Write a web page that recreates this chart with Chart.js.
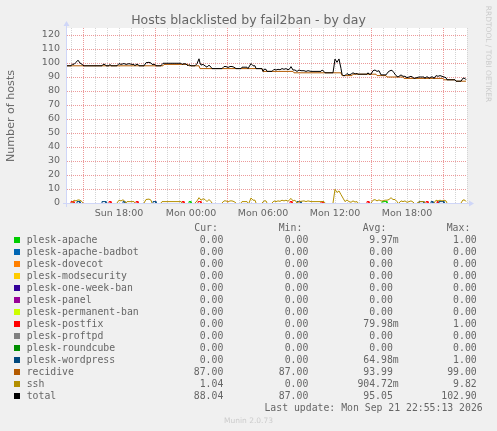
<!DOCTYPE html>
<html><head><meta charset="utf-8">
<script src="https://cdn.jsdelivr.net/npm/chart.js@4/dist/chart.umd.min.js"></script>
<style>
html,body{margin:0;padding:0;background:#F0F0F0;}
#wrap{position:relative;width:497px;height:431px;overflow:hidden;background:#F0F0F0;}
#c{position:absolute;left:0;top:0;}
.t{position:absolute;white-space:pre;color:#666;}
.mono{font-family:"DejaVu Sans Mono",monospace;font-size:9.8px;line-height:12px;}
.sans{font-family:"DejaVu Sans",sans-serif;}
.sw{position:absolute;width:6px;height:6px;}
</style></head><body>
<div id="wrap"><canvas id="c" width="497" height="431"></canvas></div>
<script>
// ---- data (time = minutes relative to Mon 00:00) ----
const xMin = -620, xMax = 1380;
const xTickMinutes = [-360, 0, 360, 720, 1080];
const xTickLabels = ['Sun 18:00', 'Mon 00:00', 'Mon 06:00', 'Mon 12:00', 'Mon 18:00'];

const totalTime = [
 -620,-600,-592,-585,-575,-565,-555,-545,-535,-445,
 -440,-430,-425,-410,-405,-400,-370,-360,-350,-335,
 -325,-310,-295,-285,-280,-275,-265,-260,-235,-225,
 -210,-200,-195,-180,-175,-150,-145,-140,-50,-45,
 -35,-25,-15,-10,0,20,30,40,45,50,
 60,70,80,90,100,105,155,165,175,185,
 195,205,215,225,250,255,280,285,300,310,
 320,325,355,360,365,375,380,405,415,425,
 435,445,455,465,475,485,495,500,510,520,
 530,540,550,565,575,585,600,650,655,665,
 670,710,720,730,740,750,755,760,770,780,
 790,800,810,820,830,835,880,885,890,900,
 910,920,930,940,950,975,985,995,1005,1015,
 1025,1035,1050,1060,1070,1080,1090,1100,1110,1115,
 1140,1165,1170,1175,1185,1190,1200,1210,1215,1225,
 1235,1245,1255,1265,1275,1280,1320,1325,1350,1360,
 1370,1375];
const totalHosts = [
 98,98,99.3,99,100.5,102,100,99,98,98,
 99,99,98,98,99,98,98,99.6,99,99.6,
 99,99.5,99,99,98,99,99,98,98,100.2,
 100.5,100,99,99,98,98,99,99.8,99.8,99,
 99.5,99.3,98,98.8,98,98,99.5,103,100,98.5,
 99,98,97,98.5,97,96,96,97.5,97.5,96.8,
 97.5,97.5,97,96,96,97,97,96,99.6,98,
 98,96,96,94,95.5,95.5,94,94,95.5,95,
 95.5,95.2,96,95.5,96,95.2,96,97.4,95,95,
 94,95,94.5,94.5,94,94.5,94,94,95,94,
 93,93,102.8,100.5,102.9,96,92,91,91,92.5,
 91.5,92,93,92.2,92.5,92,92,93,92,92,
 94.5,95,94,94.5,91.5,91.5,93.5,94.5,94.8,93,
 91,90,91.5,90.5,90.5,89.5,90,90.5,89.7,89,
 90,90,89,90,90,89,90,90,89,91,
 90.5,91,90.5,90,89.5,88,88,87,87,89.2,
 89,88.04];

const recidiveTime = [-620,-140,-135,-15,-10,40,45,355,360,510,515,750,755,805,810,925,930,975,980,1060,1065,1260,1265,1320,1325,1375];
const recidiveHosts = [98,98,99,99,98,98,96,96,94,94,93,93,91,91,92,92,91,91,90,90,89,89,88,88,87,87];

const sshTime = [
 -620,-595,-585,-575,-565,-555,-545,-540,
 -370,-360,-350,-340,-330,-325,-320,-285,-280,
 -235,-225,-210,-200,-195,
 -150,-145,-50,-45,
 20,30,40,50,60,70,80,90,100,105,
 155,165,175,185,195,205,215,225,
 250,255,280,285,290,300,310,320,325,
 355,365,375,380,
 405,415,425,435,445,455,465,475,485,500,510,520,530,
 540,565,575,585,600,665,670,
 710,720,730,740,750,760,770,780,790,800,810,820,830,835,
 900,910,920,930,940,950,960,970,980,990,1000,1010,1020,1030,1035,
 1040,1050,1060,1070,1080,1090,1100,1110,1115,
 1130,1145,1165,1170,
 1215,1225,1235,1245,1255,1265,1275,1280,
 1350,1360,1370,1375];
const sshHosts = [
 0,0,2,1.5,2.2,2,1,0,
 0,2,1.5,2.3,1,0,1,1,0,
 0,2.5,2.8,2,0,
 0,1,1,0,
 0,1.5,3.8,2,3,2.5,1,2.5,1,0,
 0,1.5,1.5,0.8,1.5,1.5,1,0,
 0,1,1,0,0,3.6,2,2,0,
 0,1.5,1.5,0,
 0,1.5,1,1.5,1.2,2,1.5,2,1.2,3.3,1.5,2,0,
 1,1.5,1,1.5,1,1,0,
 0,9.8,7.5,8.6,6,3.5,1,2.2,1,0.5,1.5,0.7,1,0,
 0,2,2.4,1.5,2.2,1.5,1.5,2,2,2.5,3.8,2.5,2.5,1,0,
 0,1.5,1,1.5,0.5,1,1.5,0.7,0,
 0,1,1,0,
 0,2,1.5,2,1.5,2,1.5,0,
 0,2.2,2,1.04];

// periods with one banned host (value 1), all other time 0
const apacheBans = [[-10,0],[955,980]];
const postfixBans = [[-600,-585],[-410,-400],[-275,-265],[-45,-35],[35,50],[495,505],[650,660],[880,890],[1175,1185],[1230,1235]];
const wordpressBans = [[-570,-555],[-445,-425],[-340,-330],[-190,-175],[530,550],[1140,1165],[1200,1210],[1240,1265]];

// legend table
const legendNames = ['plesk-apache','plesk-apache-badbot','plesk-dovecot','plesk-modsecurity','plesk-one-week-ban','plesk-panel','plesk-permanent-ban','plesk-postfix','plesk-proftpd','plesk-roundcube','plesk-wordpress','recidive','ssh','total'];
const legendColors = ['#00CC00','#0066B3','#FF8000','#FFCC00','#330099','#990099','#CCFF00','#FF0000','#808080','#008F00','#00487D','#B35A00','#B38F00','#000000'];
const curText = ['0.00','0.00','0.00','0.00','0.00','0.00','0.00','0.00','0.00','0.00','0.00','87.00','1.04','88.04'];
const minText = ['0.00','0.00','0.00','0.00','0.00','0.00','0.00','0.00','0.00','0.00','0.00','87.00','0.00','87.00'];
const avgText = ['9.97m','0.00','0.00','0.00','0.00','0.00','0.00','79.98m','0.00','0.00','64.98m','93.99','904.72m','95.05'];
const maxText = ['1.00','0.00','0.00','0.00','0.00','0.00','0.00','1.00','0.00','0.00','1.00','99.00','9.82','102.90'];

// ---- build datasets ----
function seriesPoints(times, vals){
  const pts = [];
  for (let i = 0; i < times.length; i++){
    pts.push({x: times[i], y: vals[i]});
    if (i < times.length - 1 && vals[i] === 0 && vals[i+1] === 0) pts.push({x: (times[i]+times[i+1])/2, y: null});
  }
  return pts;
}
function banPoints(list){
  const pts = [];
  list.forEach(([s,e]) => { pts.push({x:s,y:0},{x:s,y:1},{x:e,y:1},{x:e,y:0},{x:e,y:null}); });
  return pts;
}
const seriesData = {
  'plesk-apache': banPoints(apacheBans),
  'plesk-postfix': banPoints(postfixBans),
  'plesk-wordpress': banPoints(wordpressBans),
  'recidive': seriesPoints(recidiveTime, recidiveHosts),
  'ssh': seriesPoints(sshTime, sshHosts),
  'total': seriesPoints(totalTime, totalHosts)
};
const datasets = legendNames.map((n, i) => ({
  label: n,
  data: seriesData[n] || [],
  borderColor: legendColors[i],
  backgroundColor: legendColors[i],
  borderWidth: 1,
  pointRadius: 0,
  tension: 0,
  fill: false,
  spanGaps: false,
  borderJoinStyle: 'round',
  order: legendNames.length - 1 - i
}));

const AXIS = '#CFD6F8';
const GRID_MINOR = '#d4d4d4';
const GRID_MAJOR = '#ec9a9a';
function isMajorX(v){ return ((v % 360) + 360) % 360 === 180; }
function isMajorY(v){ return v % 10 === 0; }

const frame = {
  id: 'frame',
  beforeDraw(chart){
    const {ctx, chartArea:a} = chart;
    ctx.save();
    ctx.fillStyle = '#F0F0F0';
    ctx.fillRect(0, 0, chart.width, chart.height);
    ctx.fillStyle = '#FFFFFF';
    ctx.fillRect(a.left, a.top, a.right - a.left, a.bottom - a.top);
    ctx.restore();
  },
  beforeDatasetsDraw(chart){
    const {ctx, chartArea:a, scales} = chart;
    ctx.save();
    ctx.lineWidth = 1;
    ctx.setLineDash([1, 1]);
    [false, true].forEach(major => {
      ctx.strokeStyle = major ? GRID_MAJOR : GRID_MINOR;
      scales.x.ticks.forEach(t => {
        if (isMajorX(t.value) !== major) return;
        const px = Math.round(scales.x.getPixelForValue(t.value)) + 0.5;
        ctx.beginPath(); ctx.moveTo(px, a.bottom); ctx.lineTo(px, a.top); ctx.stroke();
      });
      scales.y.ticks.forEach(t => {
        if (t.value === 0 || isMajorY(t.value) !== major) return;
        const py = Math.round(scales.y.getPixelForValue(t.value)) + 0.5;
        ctx.beginPath(); ctx.moveTo(a.left, py); ctx.lineTo(a.right, py); ctx.stroke();
      });
    });
    ctx.restore();
  },
  afterDatasetsDraw(chart){
    const {ctx, chartArea:a} = chart;
    ctx.save();
    ctx.fillStyle = AXIS;
    ctx.fillRect(a.left - 4, a.bottom, a.right - a.left + 6, 1);
    ctx.beginPath();
    ctx.moveTo(a.right + 2, a.bottom - 2.5);
    ctx.lineTo(a.right + 7, a.bottom + 0.5);
    ctx.lineTo(a.right + 2, a.bottom + 3.5);
    ctx.closePath(); ctx.fill();
    ctx.fillRect(a.left - 1, a.top - 3, 1, a.bottom - a.top + 7);
    ctx.beginPath();
    ctx.moveTo(a.left - 3.5, a.top - 2);
    ctx.lineTo(a.left - 0.5, a.top - 7);
    ctx.lineTo(a.left + 2.5, a.top - 2);
    ctx.closePath(); ctx.fill();
    ctx.restore();
  }
};

new Chart(document.getElementById('c'), {
  type: 'line',
  data: { datasets },
  options: {
    responsive: false,
    animation: false,
    events: [],
    layout: { padding: { left: 0, right: 30, top: 28, bottom: 0 } },
    plugins: { legend: { display: false }, title: { display: false }, tooltip: { enabled: false } },
    scales: {
      x: {
        type: 'linear', min: xMin, max: xMax,
        afterFit: s => { s.height = 228; },
        afterBuildTicks: s => {
          const t = [];
          for (let m = Math.ceil(xMin / 60) * 60; m <= xMax; m += 60) t.push({value: m});
          s.ticks = t;
        },
        ticks: {
          autoSkip: false, maxRotation: 0, minRotation: 0, padding: 5,
          color: '#666', font: { family: 'DejaVu Sans', size: 9.5 },
          callback: v => { const k = xTickMinutes.indexOf(v); return k >= 0 ? xTickLabels[k] : ''; }
        },
        grid: { display: false, drawTicks: false },
        border: { display: false }
      },
      y: {
        min: 0, max: 125,
        afterFit: s => { s.width = 67; },
        ticks: {
          stepSize: 5, padding: 7, color: '#666',
          font: { family: 'DejaVu Sans', size: 9.5 },
          callback: v => (v % 10 === 0 ? String(v) : '')
        },
        grid: { display: false, drawTicks: false },
        border: { display: false }
      }
    }
  },
  plugins: [frame]
});

// ---- texts ----
const wrap = document.getElementById('wrap');
function addText(txt, cls, style){
  const d = document.createElement('div');
  d.className = 't ' + cls;
  d.textContent = txt;
  Object.assign(d.style, style);
  wrap.appendChild(d);
  return d;
}
addText('Hosts blacklisted by fail2ban - by day', 'sans', {left:'0px', width:'497px', textAlign:'center', top:'12px', fontSize:'12.5px', lineHeight:'15px'});
addText('Number of hosts', 'sans', {left:(11-100)+'px', top:(115.5-7)+'px', width:'200px', textAlign:'center', fontSize:'11.1px', lineHeight:'14px', transform:'rotate(-90deg)'});
addText('RRDTOOL / TOBI OETIKER', 'sans', {left:(488-60)+'px', top:(53.5-5)+'px', width:'120px', textAlign:'center', fontSize:'7.5px', lineHeight:'10px', color:'#cccccc', transform:'rotate(90deg)'});

const headX = [194.3, 278.7, 362.7, 446.7];
['Cur:','Min:','Avg:','Max:'].forEach((h, i) => addText(h, 'mono', {left: headX[i] + 'px', top: (227.3 - 5.8) + 'px'}));
const colEdge = [229.2, 314.2, 398.7, 482.6];
legendNames.forEach((n, i) => {
  const c = 239.3 + 12 * i;
  const sw = document.createElement('div');
  sw.className = 'sw';
  sw.style.left = '14px';
  sw.style.top = Math.round(c - 2.5) + 'px';
  sw.style.background = legendColors[i];
  wrap.appendChild(sw);
  addText(n, 'mono', {left: '26.7px', top: (c - 5.8) + 'px'});
  [curText[i], minText[i], avgText[i], maxText[i]].forEach((v, j) => {
    const s = /[0-9]$/.test(v) ? v + ' ' : v;
    addText(s, 'mono', {right: (497 - colEdge[j]) + 'px', top: (c - 5.8) + 'px', textAlign: 'right'});
  });
});
addText('Last update: Mon Sep 21 22:55:13 2026', 'mono', {right: (497 - 482.7) + 'px', top: (407.7 - 5.8) + 'px'});
addText('Munin 2.0.73', 'sans', {left:'0px', width:'497px', textAlign:'center', top:(420 - 4.4) + 'px', fontSize:'7.5px', lineHeight:'9px', color:'#cccccc'});
</script>
</body></html>
